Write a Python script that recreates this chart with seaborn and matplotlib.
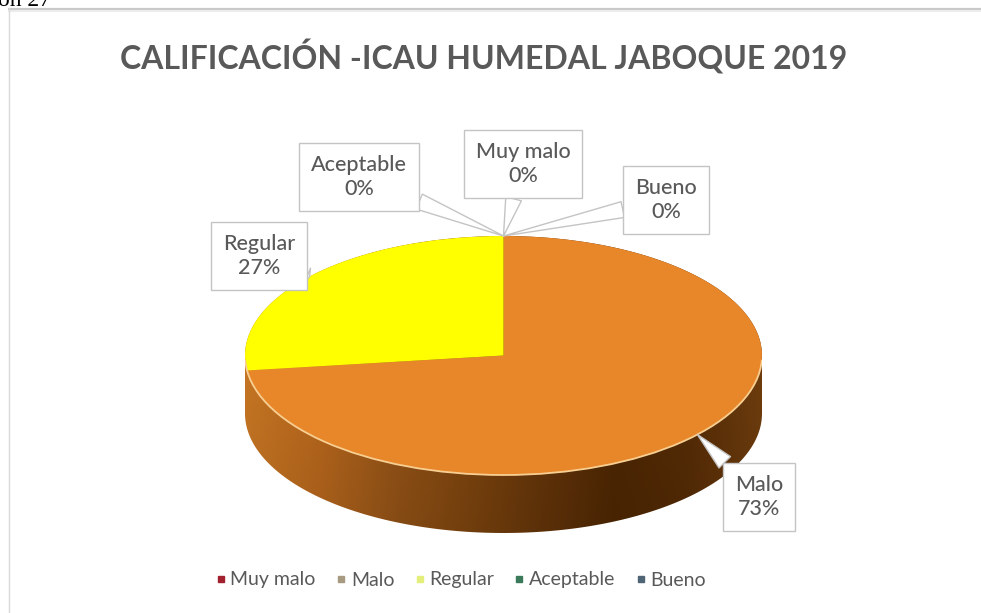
import numpy as np
import matplotlib
matplotlib.use("Agg")
import matplotlib.pyplot as plt
import seaborn as sns
from matplotlib.patches import Polygon, Arc
from matplotlib.lines import Line2D

# ---------------- data ----------------
categories = ["Muy malo", "Malo", "Regular", "Aceptable", "Bueno"]
values = [0, 73, 27, 0, 0]
pct_labels = ["0%", "73%", "27%", "0%", "0%"]
title = "CALIFICACIÓN -ICAU HUMEDAL JABOQUE 2019"

top_colors = ["#9e1b32", "#e8862a", "#ffff00", "#2e7b57", "#43566b"]
legend_colors = ["#a3202f", "#a89a80", "#e4ee7a", "#3a7a5a", "#4f6475"]

sns.set_theme(style="white")
plt.rcParams["font.family"] = ["Lato", "DejaVu Sans"]

W, H = 981, 613
fig = plt.figure(figsize=(W / 100, H / 100), dpi=100)
fig.patch.set_facecolor("white")

# overlay axes in pixel coords
ax0 = fig.add_axes([0, 0, 1, 1])
ax0.set_xlim(0, W)
ax0.set_ylim(H, 0)
ax0.axis("off")

# chart border (top/left visible)
ax0.plot([8, W + 5], [8.5, 8.5], color="#c9c9c9", lw=1.6, solid_capstyle="butt")
ax0.plot([8, W + 5], [10.5, 10.5], color="#ececec", lw=1.5, solid_capstyle="butt")
ax0.plot([8.5, 8.5], [8, H + 5], color="#d9d9d9", lw=1.0)

# caption text cut off at the very top-left (as in the reference)
ax0.text(-2, 6, "ón 27", family=["Liberation Serif"], fontsize=17,
         color="black", va="baseline", ha="left")

# title
ax0.text(484, 57, title, fontsize=23, fontweight="bold", color="#595959",
         ha="center", va="center")

# ---------------- pie (3D look) ----------------
cx_l, cx_r = 245, 762
top_y, face_bot, side_bot = 236, 475, 533
ry = (face_bot - top_y) / 2
d = (side_bot - face_bot) / ry

ax = fig.add_axes([cx_l / W, (H - side_bot) / H, (cx_r - cx_l) / W, (side_bot - top_y) / H])
wedges, _ = ax.pie(values, colors=top_colors, startangle=90, counterclock=False,
                   radius=1, center=(0, 0), wedgeprops=dict(linewidth=0, zorder=3))
ax.set_aspect("auto")
ax.set_xlim(-1, 1)
ax.set_ylim(-1 - d, 1)
ax.axis("off")

# side of the pie with horizontal shading
t_up = np.linspace(0, np.pi, 200)
t_lo = np.linspace(np.pi, 2 * np.pi, 200)
pts = np.vstack([np.column_stack([np.cos(t_up), np.sin(t_up)]),
                 np.column_stack([np.cos(t_lo), np.sin(t_lo) - d])])
side_patch = Polygon(pts, closed=True, fc="none", ec="none", transform=ax.transData)
ax.add_patch(side_patch)
side_cols = sns.blend_palette(["#d27d25", "#c06c1e", "#9c5818", "#84480f",
                               "#6a380a", "#522903", "#5a2e06", "#74400e"], 300)
grad = np.array(side_cols)[None, :, :]
rows = np.linspace(1.0, 0.86, 40)[:, None, None]
img = np.clip(grad * rows, 0, 1)
im = ax.imshow(img, extent=(-1, 1, -1 - d, 1), aspect="auto", origin="upper",
               interpolation="bilinear", zorder=1)
im.set_clip_path(side_patch)
ax.set_xlim(-1, 1)
ax.set_ylim(-1 - d, 1)

# light rim at front edge of top face
ax.add_patch(Arc((0, 0), 2, 2, theta1=182, theta2=358, color="#f8cf92", lw=1.3, zorder=4))

# ---------------- data labels (callouts) ----------------
label_pos = {  # text centres in image pixels
    "Muy malo": (523, 164),
    "Malo": (759, 497),
    "Regular": (259, 256),
    "Aceptable": (359, 177),
    "Bueno": (666, 200),
}
for w, cat, pl in zip(wedges, categories, pct_labels):
    a = np.deg2rad((w.theta1 + w.theta2) / 2)
    px, py = label_pos[cat]
    ax.annotate(f"{cat}\n{pl}", xy=(np.cos(a), np.sin(a)), xycoords="data",
                xytext=(px, H - py), textcoords="figure pixels",
                ha="center", va="center", multialignment="center",
                fontsize=15.5, fontweight="medium", color="#595959",
                linespacing=1.3, zorder=6,
                bbox=dict(boxstyle="square,pad=0.55", fc="white", ec="#c4c4c4", lw=1),
                arrowprops=dict(arrowstyle="wedge,tail_width=0.75,shrink_factor=0.5",
                                fc="white", ec="#c4c4c4", lw=1,
                                shrinkA=0, shrinkB=0))

# ---------------- legend ----------------
handles = [Line2D([], [], marker="s", linestyle="none", markersize=4.5,
                  markerfacecolor=c, markeredgecolor=c) for c in legend_colors]
ax0.legend(handles, categories, ncol=5, loc="center",
           bbox_to_anchor=(460 / W, 1 - 580 / H), bbox_transform=fig.transFigure,
           frameon=False, handletextpad=0.15, columnspacing=0.95, fontsize=14,
           labelcolor="#595959", handlelength=0.7)

fig.savefig("out.png", dpi=100, facecolor="white")
